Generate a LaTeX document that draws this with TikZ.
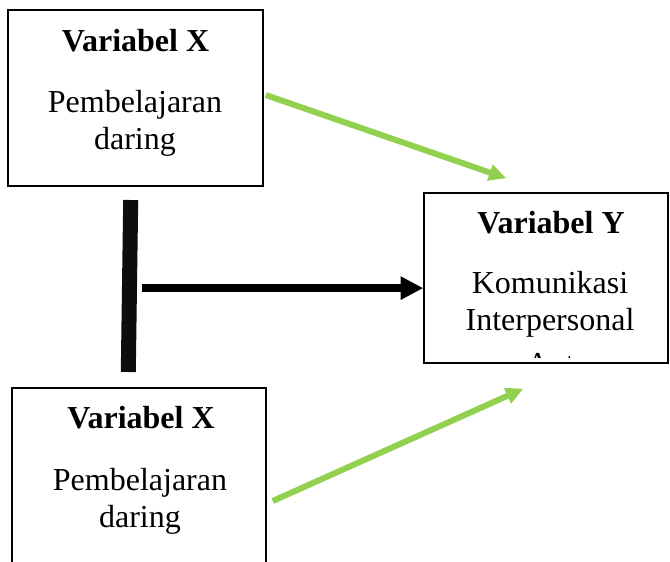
\documentclass[tikz,border=0pt]{standalone}
\usepackage{fontspec}
\setmainfont{Liberation Serif}
\usepackage{xcolor}
\usepackage{tikz}
\usetikzlibrary{positioning,arrows.meta}

\definecolor{lightgreen}{HTML}{92D050}

\begin{document}
\begin{tikzpicture}[x=0.75pt,y=-0.75pt,
      box/.style={draw,line width=1.1pt,inner sep=0pt},
      title/.style={font=\fontsize{24}{29}\selectfont\bfseries,inner sep=0pt,anchor=base},
      body/.style={font=\fontsize{24}{29}\selectfont,inner sep=0pt,anchor=base},
      blackarr/.style={-{Triangle[length=17pt,width=16.5pt]},line width=6pt},
      greenarr/.style={-{Triangle[length=13pt,width=12pt]},line width=4.5pt,lightgreen}]
    \clip (0,0) rectangle (670,561);
    % boxes
    \node[box,minimum width=191.25pt,minimum height=132pt] (xtop) at (135.5,98) {};
    \node[box,minimum width=190.5pt,minimum height=159pt] (xbot) at (139,494) {};
    \node[box,minimum width=183pt,minimum height=127.5pt] (ybox) at (546,278) {};
    % texts of the upper X box
    \node[title] (xtoptitle) at (135.5,51) {Variabel X};
    \node[body] (xtopone) at (135,112) {Pembelajaran};
    \node[body] (xtoptwo) at (135,149) {daring};
    % texts of the lower X box
    \node[title] (xbottitle) at (141,428) {Variabel X};
    \node[body] (xbotone) at (140,490) {Pembelajaran};
    \node[body] (xbottwo) at (140,527) {daring};
    % texts of the Y box
    \node[title] (ytitle) at (551,233) {Variabel Y};
    \node[body] (yone) at (550,293) {Komunikasi};
    \node[body] (ytwo) at (550,330) {Interpersonal};
    \begin{scope}
      \clip (425,195) rectangle (667,357);
      \node[body,anchor=base west] (ythree) at (526,374) {Antar};
    \end{scope}
    % thick bar and black arrow
    \node[fill=black!95,inner sep=0pt,minimum width=11.25pt,minimum height=129pt,rotate=-0.8] (bar) at (129.5,286) {};
    \draw[blackarr] ([xshift=3.5pt,yshift=-1.5pt]bar.east) -- ([yshift=-1.5pt]bar.east -| ybox.west);
    % green arrows
    \coordinate (ytopin) at ([xshift=62.25pt,yshift=10.5pt]ybox.north west);
    \coordinate (ybotin) at ([xshift=75pt,yshift=-18.75pt]ybox.south west);
    \draw[greenarr] ([xshift=1.5pt,yshift=2.25pt]xtop.east) -- (ytopin);
    \draw[greenarr] ([xshift=4.5pt,yshift=-5.25pt]xbot.east) -- (ybotin);
  \end{tikzpicture}
\end{document}
